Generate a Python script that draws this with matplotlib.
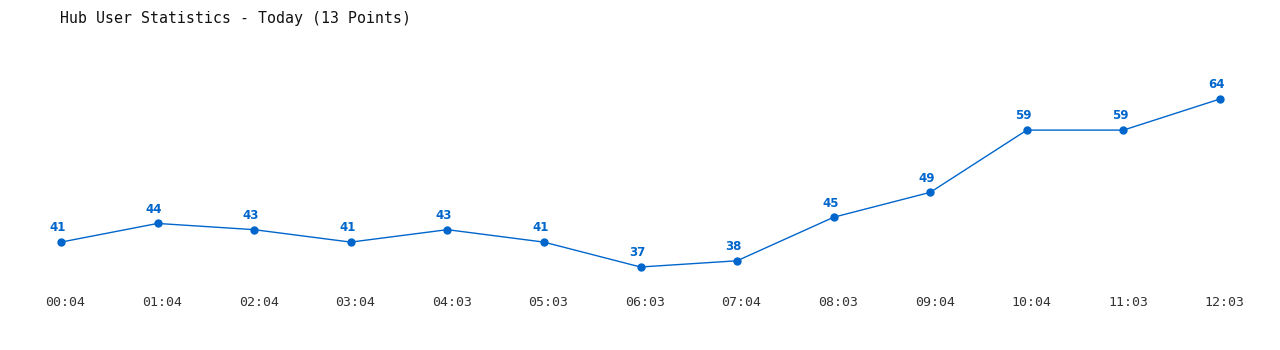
import matplotlib
matplotlib.use('Agg')
import matplotlib.pyplot as plt
import matplotlib.transforms as mtransforms

times = ['00:04', '01:04', '02:04', '03:04', '04:03', '05:03', '06:03',
         '07:04', '08:03', '09:04', '10:04', '11:03', '12:03']
users = [41, 44, 43, 41, 43, 41, 37, 38, 45, 49, 59, 59, 64]

W, H = 1280, 350
fig = plt.figure(figsize=(W / 100, H / 100), dpi=100)
# axes placed so the first/last points and min/max values land where the original has them
ax = fig.add_axes([61 / W, (H - 267) / H, (1220 - 61) / W, (267 - 99) / H])

color = '#0066cc'
x = list(range(len(times)))
ax.plot(x, users, color=color, linewidth=1, marker='o', markersize=5,
        clip_on=False)
for xi, v in zip(x, users):
    ax.annotate(str(v), (xi, v), xytext=(-2.5, 5.5), textcoords='offset points',
                ha='center', va='bottom', fontsize=8.5, fontweight='bold',
                color=color, family='DejaVu Sans')

ax.set_xlim(0, len(times) - 1)
ax.set_ylim(min(users), max(users))
ax.set_xticks(x)
ax.set_xticklabels(times, family='DejaVu Sans Mono', fontsize=9.5, color='#333333')
ax.tick_params(axis='x', length=0, pad=21)
# labels sit a few pixels right of the points in the original
shift = mtransforms.ScaledTranslation(4.5 / 100, 0, fig.dpi_scale_trans)
for lab in ax.get_xticklabels():
    lab.set_transform(lab.get_transform() + shift)
ax.set_yticks([])
for s in ax.spines.values():
    s.set_visible(False)

fig.text(60 / W, 1 - 18 / H, 'Hub User Statistics - Today (13 Points)',
         family='DejaVu Sans Mono', fontsize=10.7, color='#111111',
         ha='left', va='center')

fig.savefig('out.png', dpi=100)
